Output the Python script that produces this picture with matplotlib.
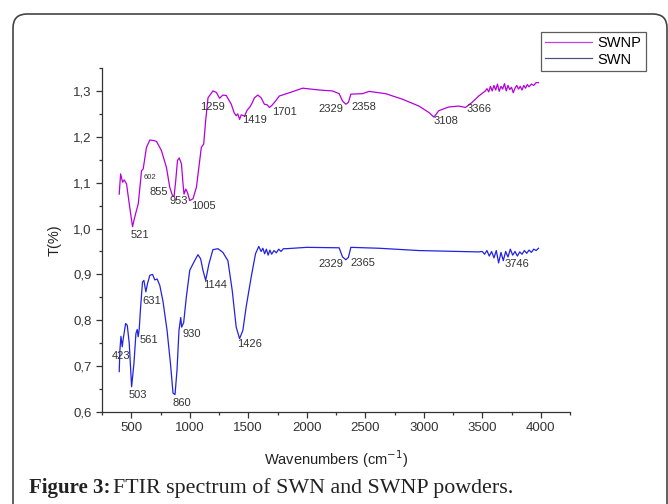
import matplotlib
matplotlib.use('Agg')
import matplotlib.pyplot as plt
from matplotlib.ticker import MultipleLocator, FuncFormatter
from matplotlib.patches import FancyBboxPatch
from matplotlib.transforms import IdentityTransform

# SWNP spectrum
swnp_x = [397, 409, 426, 440, 460, 485, 511, 525, 540, 560, 588, 602, 630, 659, 690,
          716, 758, 801, 829, 852, 866, 880, 895, 910, 929, 943, 951, 966, 980, 1000,
          1028, 1057, 1085, 1099, 1119, 1136, 1156, 1198, 1227, 1255, 1283, 1312, 1355,
          1380, 1397, 1410, 1426, 1440, 1468, 1490, 1511, 1530, 1553, 1582, 1610, 1638,
          1660, 1681, 1700, 1724, 1766, 1851, 1965, 2107, 2220, 2277, 2306, 2334, 2356,
          2377, 2476, 2533, 2675, 2817, 2959, 3044, 3087, 3129, 3214, 3299, 3357, 3413,
          3470, 3527, 3540, 3555, 3570, 3585, 3600, 3615, 3630, 3645, 3660, 3675, 3690,
          3705, 3720, 3735, 3750, 3765, 3780, 3795, 3810, 3825, 3840, 3855, 3870, 3885,
          3900, 3920, 3940, 3960, 3981]
swnp_y = [1.075, 1.119, 1.101, 1.106, 1.097, 1.05, 1.004, 1.02, 1.035, 1.054, 1.126, 1.13,
          1.177, 1.193, 1.192, 1.19, 1.17, 1.133, 1.09, 1.072, 1.07, 1.104, 1.148, 1.154,
          1.141, 1.096, 1.075, 1.086, 1.079, 1.061, 1.065, 1.09, 1.148, 1.177, 1.184,
          1.235, 1.285, 1.30, 1.297, 1.284, 1.291, 1.29, 1.271, 1.252, 1.246, 1.25, 1.238,
          1.248, 1.245, 1.258, 1.264, 1.272, 1.285, 1.291, 1.285, 1.271, 1.27, 1.264,
          1.268, 1.275, 1.289, 1.296, 1.306, 1.302, 1.30, 1.294, 1.278, 1.271, 1.275,
          1.293, 1.294, 1.299, 1.294, 1.282, 1.267, 1.253, 1.243, 1.257, 1.265, 1.267,
          1.264, 1.275, 1.289, 1.30, 1.305, 1.298, 1.31, 1.30, 1.312, 1.302, 1.315, 1.299,
          1.31, 1.304, 1.316, 1.30, 1.312, 1.303, 1.308, 1.296, 1.306, 1.312, 1.304,
          1.31, 1.302, 1.312, 1.306, 1.314, 1.309, 1.315, 1.312, 1.318, 1.318]

# SWN spectrum
swn_x = [397, 403, 412, 423, 430, 452, 466, 483, 503, 523, 540, 551, 559, 568, 579,
         596, 608, 625, 639, 659, 682, 701, 721, 744, 772, 806, 835, 857, 874, 891,
         908, 923, 931, 948, 971, 1000, 1042, 1070, 1093, 1113, 1136, 1164, 1198,
         1241, 1283, 1326, 1363, 1397, 1426, 1454, 1482, 1525, 1562, 1590, 1610, 1625,
         1640, 1655, 1670, 1685, 1700, 1720, 1740, 1760, 1780, 1800, 1823, 2000, 2277,
         2306, 2334, 2356, 2377, 2618, 2959, 3470, 3500, 3520, 3540, 3560, 3580, 3600,
         3620, 3640, 3660, 3680, 3700, 3720, 3740, 3760, 3780, 3800, 3820, 3840, 3860,
         3880, 3900, 3920, 3940, 3960, 3981]
swn_y = [0.688, 0.735, 0.765, 0.742, 0.757, 0.793, 0.789, 0.749, 0.655, 0.706, 0.771,
         0.78, 0.764, 0.78, 0.825, 0.883, 0.887, 0.862, 0.88, 0.898, 0.90, 0.888, 0.89,
         0.876, 0.84, 0.778, 0.706, 0.641, 0.638, 0.691, 0.778, 0.806, 0.785, 0.795,
         0.851, 0.909, 0.93, 0.943, 0.934, 0.909, 0.887, 0.923, 0.954, 0.956, 0.948,
         0.93, 0.865, 0.785, 0.76, 0.778, 0.829, 0.894, 0.945, 0.961, 0.95, 0.957,
         0.945, 0.955, 0.942, 0.953, 0.944, 0.952, 0.947, 0.955, 0.95, 0.956, 0.956,
         0.959, 0.958, 0.938, 0.932, 0.937, 0.959, 0.957, 0.952, 0.949, 0.95, 0.944,
         0.952, 0.94, 0.95, 0.936, 0.952, 0.925, 0.948, 0.93, 0.95, 0.938, 0.955, 0.942,
         0.95, 0.94, 0.949, 0.944, 0.952, 0.946, 0.953, 0.948, 0.955, 0.952, 0.957]

# peak labels: (text, x, y)
swnp_labels = [('521', 574, 0.985), ('855', 739, 1.079), ('953', 909, 1.061),
               ('1005', 1113, 1.05), ('1259', 1198, 1.264), ('1419', 1553, 1.236),
               ('1701', 1809, 1.253), ('2329', 2206, 1.26), ('2358', 2490, 1.265),
               ('3108', 3192, 1.235), ('3366', 3475, 1.26)]
swn_labels = [('423', 409, 0.722), ('503', 559, 0.638), ('561', 653, 0.757),
              ('631', 673, 0.843), ('860', 929, 0.62), ('930', 1014, 0.77),
              ('1144', 1213, 0.876), ('1426', 1511, 0.749), ('2329', 2206, 0.922),
              ('2365', 2476, 0.925), ('3746', 3797, 0.923)]

plt.rcParams['font.family'] = ['Liberation Sans', 'DejaVu Sans']

fig = plt.figure(figsize=(6.68, 5.04), dpi=100)
ax = fig.add_axes([102 / 668, 1 - 412 / 504, 468 / 668, 344 / 504])

ax.plot(swnp_x, swnp_y, color='#b400dc', lw=0.9, label='SWNP')
ax.plot(swn_x, swn_y, color='#2222e0', lw=0.9, label='SWN')

for txt, x, y in swnp_labels:
    ax.text(x, y, txt, ha='center', va='center', fontsize=8, color='#333333')
ax.text(659, 1.111, '602', ha='center', va='center', fontsize=5.5, color='#333333')
for txt, x, y in swn_labels:
    ax.text(x, y, txt, ha='center', va='center', fontsize=8, color='#333333')

ax.set_xlim(250, 4250)
ax.set_ylim(0.6, 1.35)
ax.xaxis.set_major_locator(MultipleLocator(500))
ax.xaxis.set_minor_locator(MultipleLocator(250))
ax.yaxis.set_major_locator(MultipleLocator(0.1))
ax.yaxis.set_minor_locator(MultipleLocator(0.05))
ax.yaxis.set_major_formatter(FuncFormatter(lambda v, p: f'{v:.1f}'.replace('.', ',')))
ax.set_xticks([500, 1000, 1500, 2000, 2500, 3000, 3500, 4000])
ax.spines['top'].set_visible(False)
ax.spines['right'].set_visible(False)
for s in ('left', 'bottom'):
    ax.spines[s].set_color('#333333')
    ax.spines[s].set_linewidth(0.9)
ax.tick_params(which='major', length=4, width=0.9, labelsize=9.5, colors='#333333')
ax.tick_params(which='minor', length=2.5, width=0.9, colors='#333333')
ax.set_xlabel('Wavenumbers (cm$^{-1}$)', fontsize=10.5, color='#222222', labelpad=10)
ax.set_ylabel('T(%)', fontsize=10.5, color='#222222', labelpad=8)

leg = fig.legend(loc='upper right', bbox_to_anchor=(646 / 668, 1 - 32 / 504),
                 fancybox=False, edgecolor='#333333', fontsize=10.5,
                 handlelength=3.2, borderaxespad=0, borderpad=0.3,
                 labelspacing=0.15, handletextpad=0.4)
leg.get_frame().set_linewidth(0.9)
leg.get_lines()[0].set_color('#c040e0')
leg.get_lines()[1].set_color('#50508a')

# outer rounded frame
frame = FancyBboxPatch((13, -30), 654, 520, boxstyle='round,pad=0,rounding_size=14',
                       transform=IdentityTransform(), fill=False,
                       edgecolor='#444444', lw=1.2)
fig.add_artist(frame)

serif = ['Liberation Serif', 'DejaVu Serif']
fig.text(29 / 668, 1 - 488 / 504, 'Figure 3:', fontsize=15, fontweight='bold',
         family=serif, va='center', color='#222222')
fig.text(113 / 668, 1 - 488 / 504, 'FTIR spectrum of SWN and SWNP powders.',
         fontsize=15.8, family=serif, va='center', color='#222222')

fig.savefig('out.png', dpi=100)
